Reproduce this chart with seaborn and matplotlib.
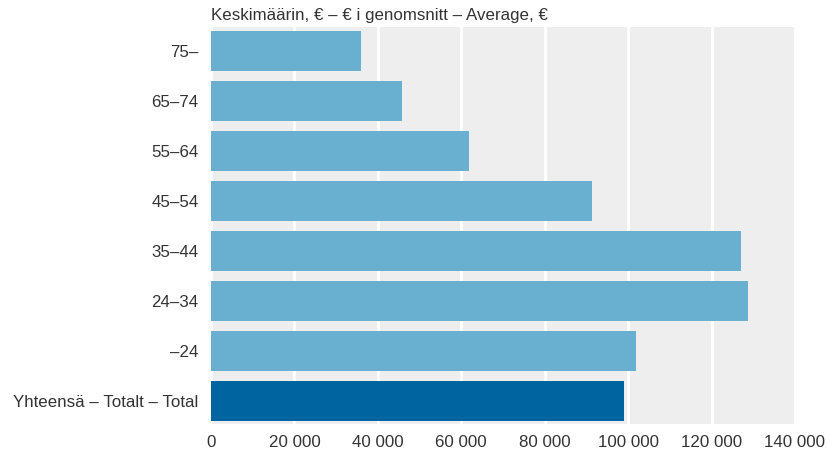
import matplotlib
matplotlib.use("Agg")
import matplotlib.pyplot as plt
import seaborn as sns
import pandas as pd
from matplotlib.ticker import FuncFormatter

categories = ["75–", "65–74", "55–64", "45–54", "35–44", "24–34", "–24", "Yhteensä – Totalt – Total"]
values = [36000, 45800, 61900, 91400, 127100, 128700, 102000, 99100]
colors = ["#69afd0"] * 7 + ["#0064a0"]
title = "Keskimäärin, € – € i genomsnitt – Average, €"

sns.set_theme(style="darkgrid")
plt.rcParams["font.family"] = ["Liberation Sans", "DejaVu Sans"]

df = pd.DataFrame({"cat": categories, "val": values})

fig = plt.figure(figsize=(8.28, 4.5), dpi=100)
ax = fig.add_axes([211/828, 1 - 424/450, (795 - 211)/828, (424 - 27)/450])
ax.set_facecolor("#eeeeee")

sns.barplot(data=df, x="val", y="cat", hue="cat", palette=colors, legend=False,
            ax=ax, width=0.8, saturation=1, edgecolor="none", orient="h")

ax.set_xlim(0, 140000)
ax.set_ylim(7.46, -0.49)
ax.set_xticks(range(0, 140001, 20000))
ax.xaxis.set_major_formatter(FuncFormatter(lambda v, p: f"{int(v):,}".replace(",", " ")))
ax.grid(axis="x", color="white", linewidth=2)
ax.grid(axis="y", visible=False)
ax.set_axisbelow(True)
for s in ax.spines.values():
    s.set_visible(False)
ax.set_xlabel("")
ax.set_ylabel("")
ax.tick_params(axis="both", length=0, labelsize=12.2, labelcolor="#333333")
ax.tick_params(axis="x", pad=8)
ax.tick_params(axis="y", pad=9)
ax.set_title(title, loc="left", fontsize=12.2, color="#333333", pad=5)

fig.savefig("out.png", dpi=100)
